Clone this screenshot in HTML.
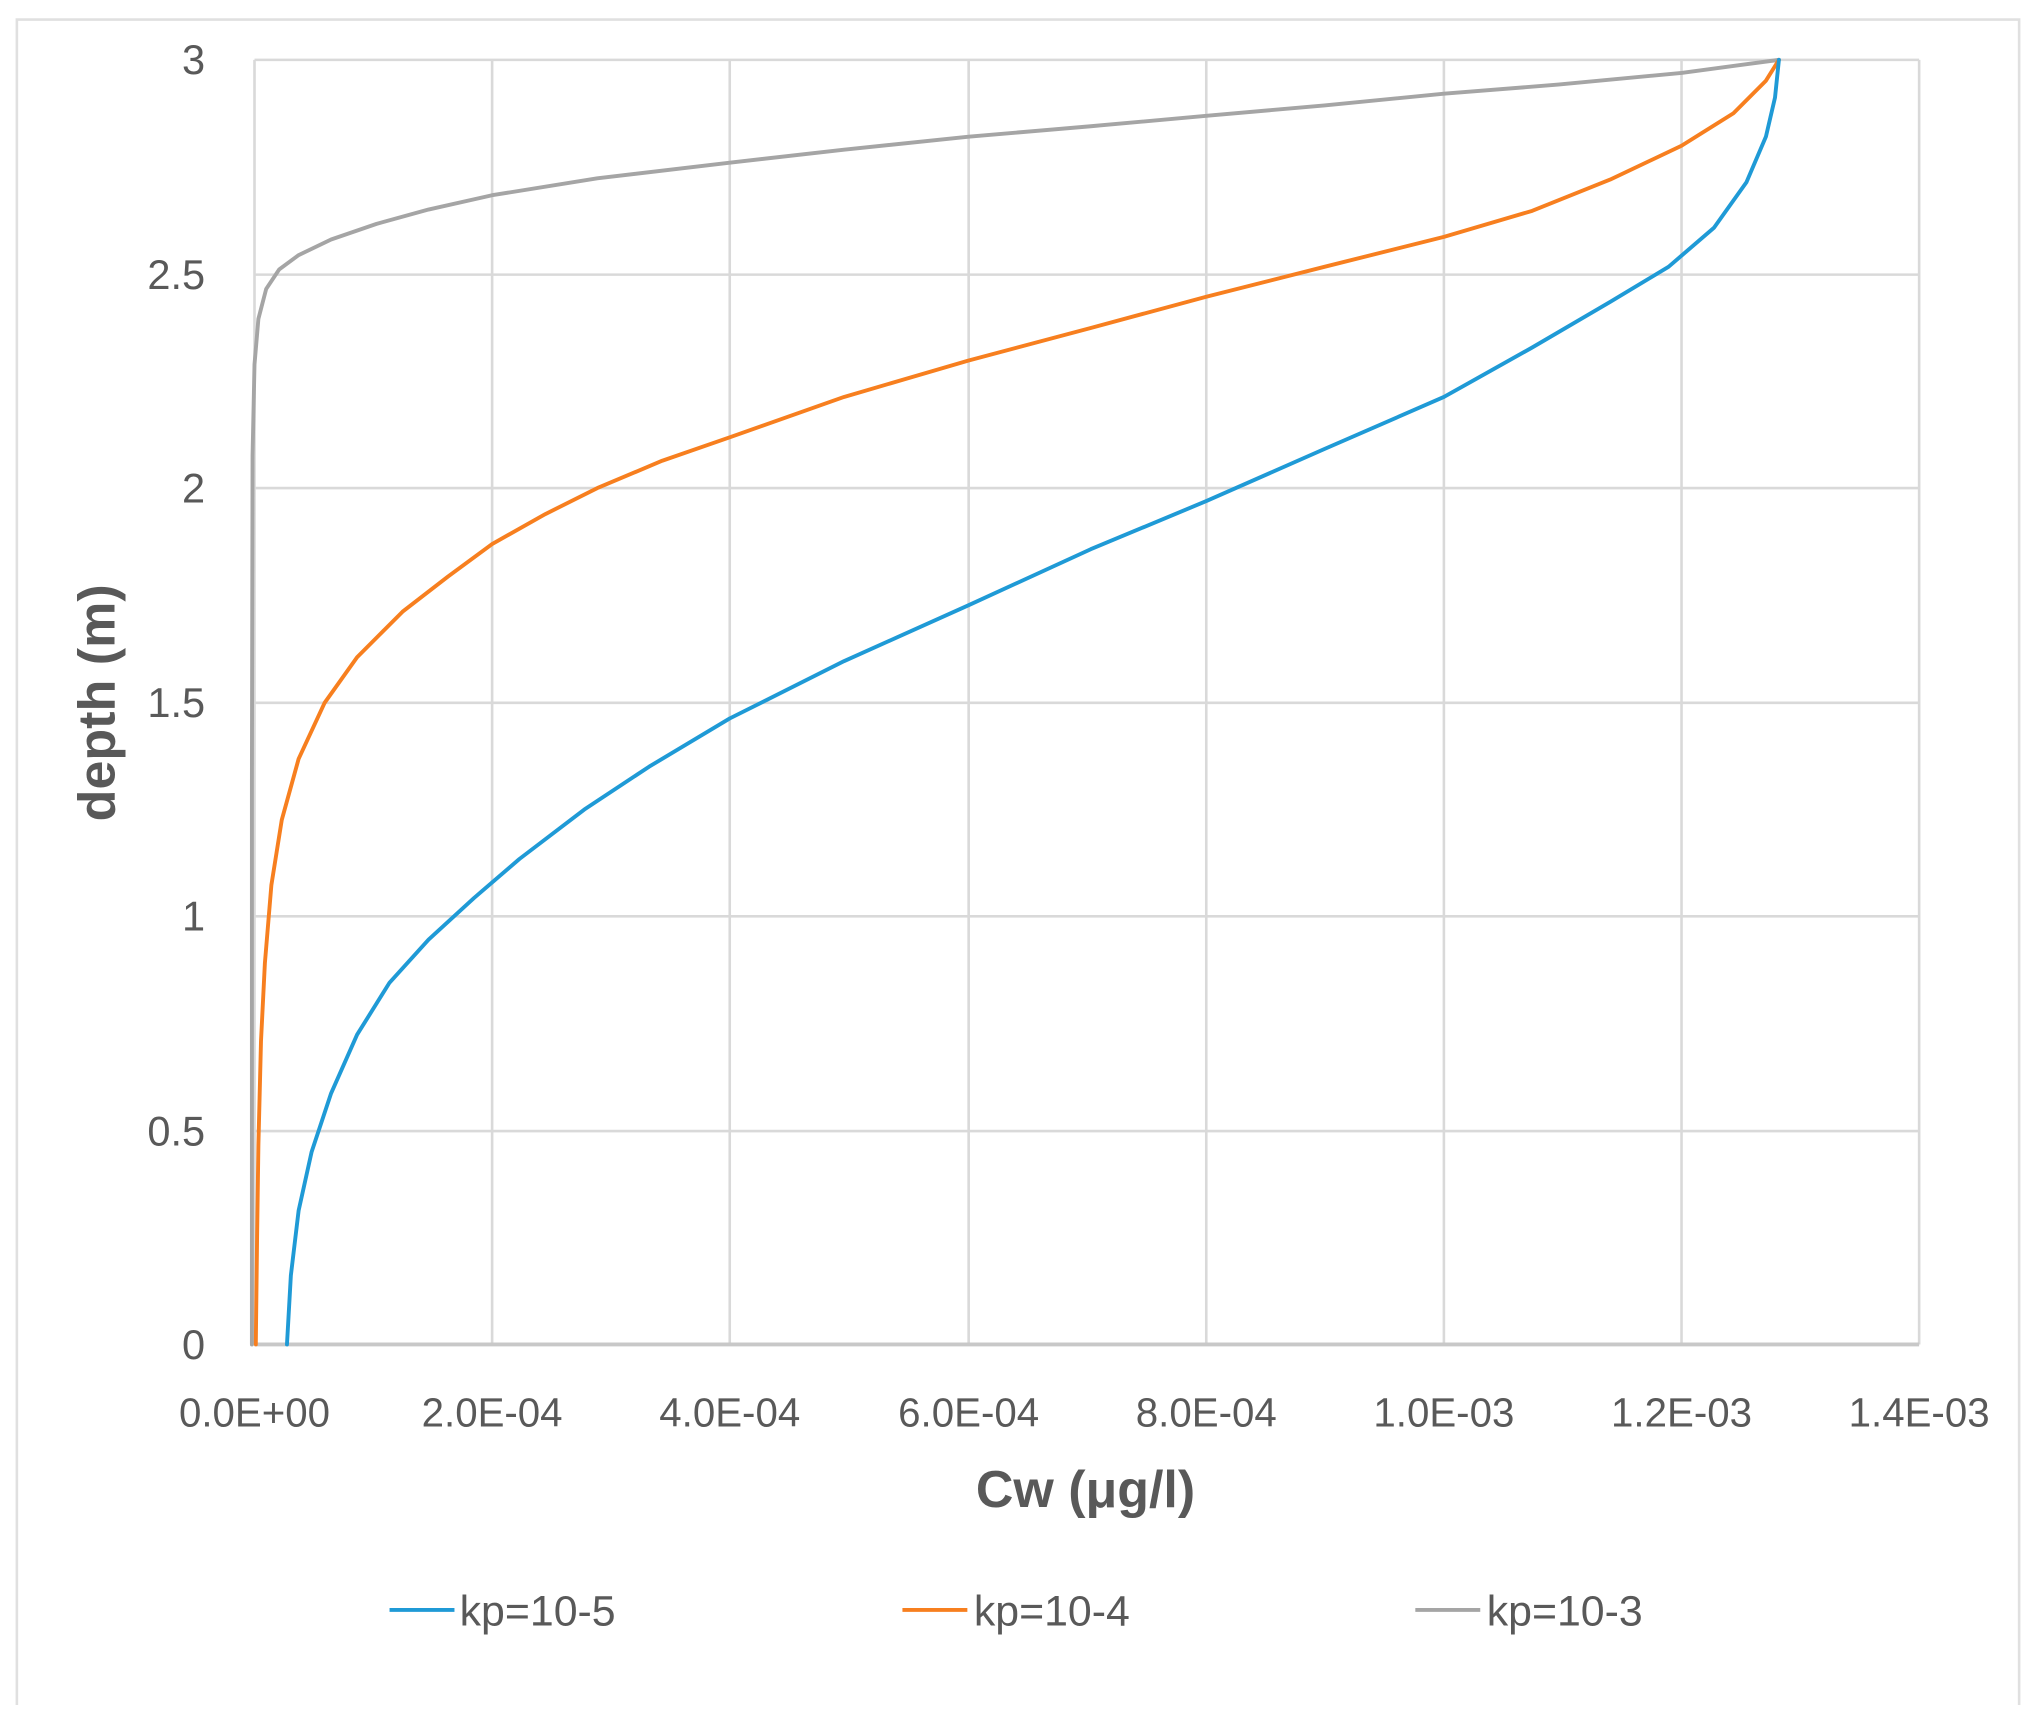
<!DOCTYPE html>
<html><head><style>html,body{margin:0;padding:0;background:#fff}svg{display:block}</style></head><body>
<svg width="2036" height="1718" viewBox="0 0 1568 1320" preserveAspectRatio="none" xmlns="http://www.w3.org/2000/svg" font-family="Liberation Sans, sans-serif">
<rect width="1568" height="1320" fill="#fff"/>
<path d="M13 1310 V15 H1555 V1310" fill="none" stroke="#e0e0e0" stroke-width="2"/>
<g stroke="#d9d9d9" stroke-width="2">
<line x1="379" y1="46" x2="379" y2="1033"/><line x1="562" y1="46" x2="562" y2="1033"/>
<line x1="746" y1="46" x2="746" y2="1033"/><line x1="929" y1="46" x2="929" y2="1033"/>
<line x1="1112" y1="46" x2="1112" y2="1033"/><line x1="1295" y1="46" x2="1295" y2="1033"/>
<line x1="1478" y1="46" x2="1478" y2="1033"/>
<line x1="196" y1="46" x2="1478" y2="46"/><line x1="196" y1="211" x2="1478" y2="211"/>
<line x1="196" y1="375" x2="1478" y2="375"/><line x1="196" y1="540" x2="1478" y2="540"/>
<line x1="196" y1="704" x2="1478" y2="704"/><line x1="196" y1="869" x2="1478" y2="869"/>
<line x1="196" y1="46" x2="196" y2="1033"/>
</g>
<line x1="196" y1="1033" x2="1478" y2="1033" stroke="#c8c8c8" stroke-width="3"/>
<g fill="#595959" font-size="32" text-anchor="end">
<text x="158" y="57">3</text><text x="158" y="222">2.5</text><text x="158" y="386">2</text>
<text x="158" y="551">1.5</text><text x="158" y="715">1</text><text x="158" y="880">0.5</text><text x="158" y="1044">0</text>
</g>
<g fill="#595959" font-size="31" text-anchor="middle">
<text x="196" y="1096">0.0E+00</text><text x="379" y="1096">2.0E-04</text><text x="562" y="1096">4.0E-04</text>
<text x="746" y="1096">6.0E-04</text><text x="929" y="1096">8.0E-04</text><text x="1112" y="1096">1.0E-03</text>
<text x="1295" y="1096">1.2E-03</text><text x="1478" y="1096">1.4E-03</text>
</g>
<text x="836" y="1158" text-anchor="middle" font-size="40" font-weight="bold" fill="#595959">Cw (μg/l)</text>
<text transform="translate(88,540) rotate(-90)" text-anchor="middle" font-size="40" font-weight="bold" fill="#595959">depth (m)</text>
<g fill="none" stroke-width="3" stroke-linejoin="round" stroke-linecap="round">
<polyline stroke="#a5a5a5" points="194,1033 194,600 194.5,350 196,280 199,245 205,222 215,207 230,196 255,184 290,172 330,161 379,150 460,137 562,125 650,115 746,105 840,97 929,89 1020,81 1112,72 1200,65 1295,56 1340,50 1370,46"/>
<polyline stroke="#f77f1f" points="197,1033 198,950 199,880 201,800 204,740 209,680 217,630 230,583 250,540 275,505 310,470 345,443 379,418 420,395 460,375 510,354 562,336 650,305 746,277 840,252 929,228 1020,205 1112,182 1180,162 1240,138 1295,112 1335,87 1360,62 1370,46"/>
<polyline stroke="#1f9ad6" points="221,1033 224,980 230,930 240,885 255,840 275,795 300,755 330,722 365,690 400,660 450,622 500,589 562,552 650,508 746,465 840,422 929,385 1020,345 1112,305 1180,267 1240,232 1285,205 1320,175 1345,140 1360,105 1367,75 1370,46"/>
</g>
<g stroke-width="3">
<line x1="300" y1="1237" x2="350" y2="1237" stroke="#1f9ad6"/>
<line x1="695" y1="1237" x2="745" y2="1237" stroke="#f77f1f"/>
<line x1="1090" y1="1237" x2="1140" y2="1237" stroke="#a5a5a5"/>
</g>
<g fill="#595959" font-size="33">
<text x="354" y="1249">kp=10-5</text><text x="750" y="1249">kp=10-4</text><text x="1145" y="1249">kp=10-3</text>
</g>
</svg>
</body></html>
